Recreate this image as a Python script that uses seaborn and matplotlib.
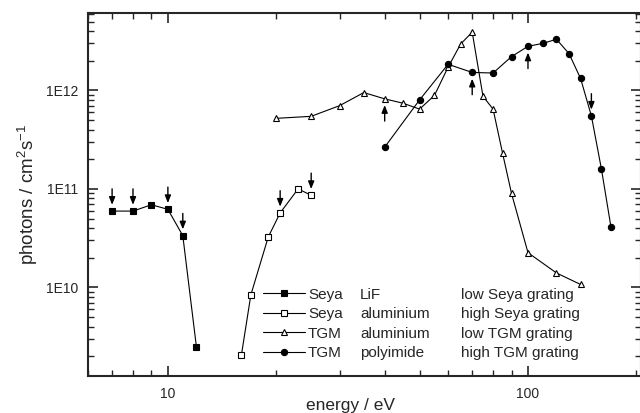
import numpy as np
import pandas as pd
import seaborn as sns
import matplotlib
matplotlib.use('Agg')
from matplotlib import pyplot as plt
from matplotlib.ticker import FuncFormatter, LogLocator, NullFormatter
from matplotlib.lines import Line2D

# %%
# Seya LiF (low Seya grating)
lif_e = [7, 8, 9, 10, 11, 12]
lif_f = [5.95e10, 5.95e10, 6.9e10, 6.2e10, 3.35e10, 2.5e9]
lif_arrows = [7, 8, 10, 11]

# Seya aluminium (high Seya grating)
seya_al_e = [16, 17, 19, 20.5, 23, 25]
seya_al_f = [2.05e9, 8.4e9, 3.25e10, 5.7e10, 1.0e11, 8.6e10]
seya_al_arrows = [20.5, 25]

# TGM aluminium (low TGM grating)
tgm_al_e = [20, 25, 30, 35, 40, 45, 50, 55, 60, 65, 70, 75, 80, 85, 90, 100, 120, 140]
tgm_al_f = [5.2e11, 5.45e11, 7.0e11, 9.5e11, 8.2e11, 7.4e11, 6.45e11, 8.9e11, 1.72e12,
            2.95e12, 3.9e12, 8.7e11, 6.45e11, 2.3e11, 9.0e10, 2.25e10, 1.4e10, 1.07e10]
tgm_al_arrows_up = [40]

# TGM polyimide (high TGM grating)
poly_e = [40, 50, 60, 70, 80, 90, 100, 110, 120, 130, 140, 150, 160, 170]
poly_f = [2.65e11, 8.0e11, 1.84e12, 1.52e12, 1.5e12, 2.2e12, 2.8e12, 3.0e12, 3.3e12,
          2.36e12, 1.32e12, 5.5e11, 1.58e11, 4.1e10]
poly_arrows_up = [70, 100]
poly_arrows_down = [150]

names1 = ['Seya', 'Seya', 'TGM', 'TGM']
names2 = ['LiF', 'aluminium', 'aluminium', 'polyimide']
gratings = ['low Seya grating', 'high Seya grating', 'low TGM grating', 'high TGM grating']

# %%
sns.set_style('ticks')
plt.rcParams['font.family'] = ['Liberation Sans', 'DejaVu Sans']
plt.rcParams['mathtext.fontset'] = 'custom'
plt.rcParams['mathtext.rm'] = 'Liberation Sans'
plt.rcParams['mathtext.it'] = 'Liberation Sans'

fig = plt.figure(figsize=(6.4, 4.13), dpi=100)
ax = fig.add_axes([88/640, 37/413, (641-88)/640, 363/413])

series = [
    (lif_e, lif_f, 's', 'k'),
    (seya_al_e, seya_al_f, 's', 'w'),
    (tgm_al_e, tgm_al_f, '^', 'w'),
    (poly_e, poly_f, 'o', 'k'),
]
for e, f, m, fc in series:
    sns.lineplot(x=e, y=f, ax=ax, color='k', lw=0.8, marker=m, ms=4.5,
                 mfc=fc, mec='k', mew=0.8, sort=False, estimator=None)

def arrow(e_list, f_list, at, up=False):
    for a in at:
        fv = f_list[e_list.index(a)]
        off = -16 if up else 16
        ax.annotate('', xy=(a, fv), xytext=(0, off), textcoords='offset points',
                    arrowprops=dict(arrowstyle='-|>,head_length=0.45,head_width=0.18',
                                    color='k', lw=1.0, shrinkA=0, shrinkB=4.5))

arrow(lif_e, lif_f, lif_arrows)
arrow(seya_al_e, seya_al_f, seya_al_arrows)
arrow(tgm_al_e, tgm_al_f, tgm_al_arrows_up, up=True)
arrow(poly_e, poly_f, poly_arrows_up, up=True)
arrow(poly_e, poly_f, poly_arrows_down)

ax.set_xscale('log')
ax.set_yscale('log')
ax.set_xlim(6, 206)
ax.set_ylim(1.26e9, 6.1e12)

ax.xaxis.set_major_locator(LogLocator(base=10))
ax.xaxis.set_minor_locator(LogLocator(base=10, subs=np.arange(2, 10)))
ax.xaxis.set_minor_formatter(NullFormatter())
ax.xaxis.set_major_formatter(FuncFormatter(lambda v, p: '%d' % v))
ax.yaxis.set_major_locator(LogLocator(base=10))
ax.yaxis.set_minor_locator(LogLocator(base=10, subs=np.arange(2, 10)))
ax.yaxis.set_minor_formatter(NullFormatter())
ax.yaxis.set_major_formatter(FuncFormatter(lambda v, p: '1E%d' % round(np.log10(v))))

ax.tick_params(which='both', direction='in', top=True, right=True, labelsize=10)
ax.tick_params(which='major', length=7, width=1.2)
ax.tick_params(axis='x', which='major', pad=8)
ax.tick_params(axis='y', which='major', pad=7)
ax.tick_params(which='minor', length=4, width=1.0)
for s in ax.spines.values():
    s.set_linewidth(1.5)

ax.set_xlabel('energy / eV', fontsize=12.5)
ax.xaxis.set_label_coords((351-88)/553, -0.06)
ax.set_ylabel('photons / cm$^2$s$^{-1}$', fontsize=13.5, labelpad=4)

# legend, three text columns
handles = []
for e, f, m, fc in series:
    handles.append(Line2D([], [], color='k', lw=0.8, marker=m, ms=4.5, mfc=fc, mec='k', mew=0.8))
blank = [Line2D([], [], ls='none') for _ in range(4)]

common = dict(frameon=False, loc='upper left', fontsize=11, borderpad=0,
              borderaxespad=0, labelspacing=0.36)
ytop = 0.243
leg1 = ax.legend(handles, names1, bbox_to_anchor=((263-88)/553, ytop),
                 handlelength=2.75, handletextpad=0.2, **common)
ax.add_artist(leg1)
leg2 = ax.legend(blank, names2, bbox_to_anchor=((360-88)/553, ytop),
                 handlelength=0, handletextpad=0, **common)
ax.add_artist(leg2)
ax.legend(blank, gratings, bbox_to_anchor=((461-88)/553, ytop),
          handlelength=0, handletextpad=0, **common)

plt.savefig('out.png', dpi=100)
